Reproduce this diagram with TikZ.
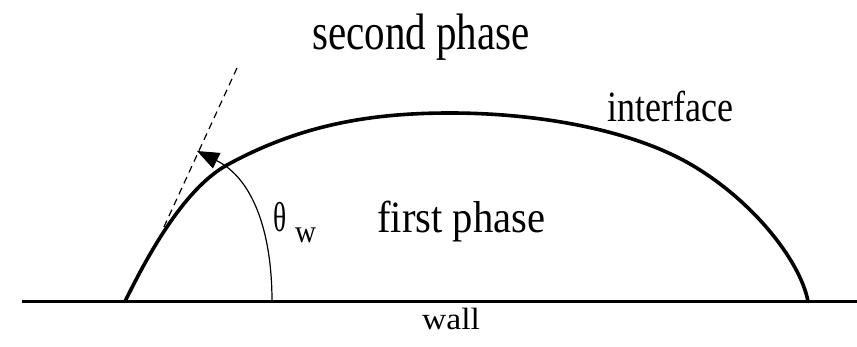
\documentclass[tikz,border=0pt]{standalone}
\usepackage{fontspec}
\setmainfont{Liberation Serif}
\usetikzlibrary{arrows.meta}
\tikzset{
  lbl/.style={inner sep=0pt, anchor=base west},
  thick line/.style={line width=3.6pt, line cap=round, line join=round},
  thin line/.style={line width=1.2pt},
  tangent/.style={line width=1.2pt, dash pattern=on 7pt off 5pt},
}
\newcommand{\txt}[4]{\scalebox{#1}[#2]{\fontsize{#3}{#3}\selectfont #4}}
\begin{document}
\begin{tikzpicture}[x=1pt,y=-1pt]
\useasboundingbox (0,0) rectangle (857,347);
% named points
\coordinate (wl) at (22,301.5);
\coordinate (wr) at (857,301.5);
\coordinate (cl) at (125,301.5);
\coordinate (cr) at (808,301.5);
\coordinate (ta) at (227,165);
\coordinate (top) at (450,113);
\coordinate (ra) at (677,157);
\coordinate (af) at (272,301.5);
\coordinate (at) at (197,151);
\coordinate (dt) at (237,68);
\coordinate (db) at (163,229);
% wall
\draw[line width=3.4pt] (wl) -- (wr);
% interface
\draw[thick line] (cl) .. controls (145,261) and (182,190) .. (ta)
  .. controls (300,125) and (370,113) .. (top)
  .. controls (530,113) and (617,127) .. (ra)
  .. controls (745,191) and (800,258) .. (cr);
% tangent (dashed)
\draw[tangent] (dt) -- (db);
% angle arc with arrow
\draw[thin line, -{Triangle[length=22pt,width=17pt]}] (af) .. controls (272,230) and (252,178) .. (at);
% labels
\node[lbl] (second) at (312,50) {\txt{1}{1.25}{41pt}{second phase}};
\node[lbl] (iface) at (607,122) {\txt{1}{1.2}{36pt}{interface}};
\node[lbl] (first) at (377,233) {\txt{1}{1.1}{40.6pt}{first phase}};
\node[lbl] (theta) at (273,232) {\txt{0.72}{1.1}{38pt}{θ}};
\node[lbl] (sub) at (295,243) {\txt{1}{1.1}{29pt}{w}};
\node[lbl] (wall) at (422,330) {\txt{1.2}{1.1}{28pt}{wall}};
\end{tikzpicture}
\end{document}
